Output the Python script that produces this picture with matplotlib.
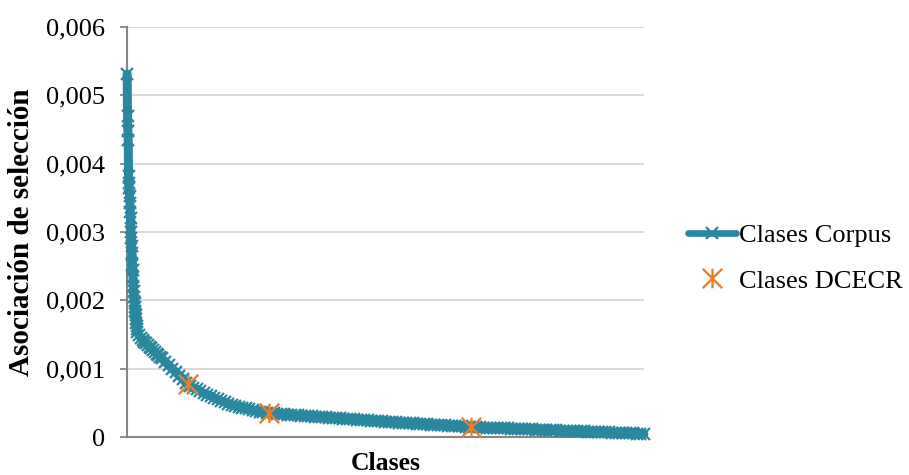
import numpy as np
import matplotlib
matplotlib.use("Agg")
import matplotlib.pyplot as plt
from matplotlib.path import Path
from matplotlib.ticker import FuncFormatter, MultipleLocator

plt.rcParams['font.family'] = ['Liberation Serif', 'DejaVu Serif']

# Ranked classes of the corpus (x = rank of the class, y = selectional association)
n_classes = 1480

head_ranks = np.arange(1, 31)
head_values = [0.00531, 0.00470, 0.00448, 0.00435, 0.00382, 0.00372, 0.00364,
               0.00352, 0.00342, 0.00330, 0.00320, 0.00300, 0.00291, 0.00279,
               0.00269, 0.00252, 0.00244, 0.00234, 0.00221, 0.00213, 0.00205,
               0.00196, 0.00190, 0.00184, 0.00178, 0.00172, 0.00167, 0.00162,
               0.00158, 0.00154]

upper_ranks = np.arange(35, 101, 5)
upper_values = [0.00149, 0.00145, 0.00142, 0.00139, 0.00137, 0.00134, 0.00132,
                0.00130, 0.00127, 0.00125, 0.00122, 0.00120, 0.00117, 0.00115]

mid_ranks = np.arange(110, 401, 10)
mid_values = [0.00110, 0.00105, 0.00100, 0.00095, 0.00090, 0.00085, 0.00079,
              0.00075, 0.00072, 0.00070, 0.00067, 0.00064, 0.00062, 0.00060,
              0.00057, 0.00055, 0.00053, 0.00051, 0.00049, 0.00047, 0.00046,
              0.00044, 0.00043, 0.00042, 0.00041, 0.00039, 0.00038, 0.00037,
              0.00036, 0.00035]

tail_ranks = np.arange(410, 1481, 10)
tail_values = [3.48e-4, 3.44e-4, 3.40e-4, 3.36e-4, 3.32e-4, 3.28e-4, 3.24e-4, 3.20e-4,
               3.16e-4, 3.13e-4, 3.09e-4, 3.05e-4, 3.01e-4, 2.97e-4, 2.94e-4, 2.90e-4,
               2.86e-4, 2.82e-4, 2.79e-4, 2.75e-4, 2.71e-4, 2.68e-4, 2.64e-4, 2.60e-4,
               2.57e-4, 2.53e-4, 2.50e-4, 2.46e-4, 2.43e-4, 2.39e-4, 2.36e-4, 2.32e-4,
               2.29e-4, 2.25e-4, 2.22e-4, 2.18e-4, 2.15e-4, 2.12e-4, 2.08e-4, 2.05e-4,
               2.02e-4, 1.98e-4, 1.95e-4, 1.92e-4, 1.89e-4, 1.85e-4, 1.82e-4, 1.79e-4,
               1.76e-4, 1.73e-4, 1.69e-4, 1.66e-4, 1.63e-4, 1.60e-4, 1.57e-4, 1.54e-4,
               1.51e-4, 1.48e-4, 1.45e-4, 1.43e-4, 1.41e-4, 1.39e-4, 1.37e-4, 1.35e-4,
               1.33e-4, 1.31e-4, 1.29e-4, 1.27e-4, 1.25e-4, 1.23e-4, 1.21e-4, 1.19e-4,
               1.17e-4, 1.15e-4, 1.13e-4, 1.11e-4, 1.09e-4, 1.07e-4, 1.05e-4, 1.03e-4,
               1.01e-4, 0.99e-4, 0.97e-4, 0.95e-4, 0.93e-4, 0.91e-4, 0.89e-4, 0.87e-4,
               0.85e-4, 0.83e-4, 0.81e-4, 0.79e-4, 0.77e-4, 0.75e-4, 0.73e-4, 0.71e-4,
               0.69e-4, 0.67e-4, 0.65e-4, 0.63e-4, 0.61e-4, 0.59e-4, 0.57e-4, 0.55e-4,
               0.53e-4, 0.51e-4, 0.47e-4, 0.42e-4]

# Classes that also appear in the DCECR
dcecr_ranks = [175, 407, 986]
dcecr_values = [0.00077, 0.00035, 0.000145]

corpus_ranks = np.concatenate([head_ranks, upper_ranks, mid_ranks, tail_ranks])
corpus_values = np.concatenate([head_values, upper_values, mid_values, tail_values])

teal = '#2A87A0'
orange = '#F47D20'
axis_gray = '#868686'
grid_gray = '#D9D9D9'

# Asterisk marker: vertical bar plus a full X
star_marker = Path([(0, -1), (0, 1), (-1, -1), (1, 1), (-1, 1), (1, -1)],
                   [Path.MOVETO, Path.LINETO] * 3)

fig = plt.figure(figsize=(9.09, 4.75), dpi=100)
ax = fig.add_axes([127 / 909, 1 - 437 / 475, (644 - 127) / 909, (437 - 27) / 475])

corpus_line, = ax.plot(corpus_ranks, corpus_values, color=teal, lw=6.5,
                       marker='x', ms=9, mew=1.6, mec=teal,
                       solid_joinstyle='round', solid_capstyle='round',
                       clip_on=False, zorder=3, label='Clases Corpus')
dcecr_pts, = ax.plot(dcecr_ranks, dcecr_values, ls='none', marker=star_marker,
                     ms=14, mew=1.7, mfc='none', mec=orange,
                     clip_on=False, zorder=4, label='Clases DCECR')

ax.set_xlim(0.5, n_classes + 0.5)
ax.set_ylim(0, 0.006)
ax.yaxis.set_major_locator(MultipleLocator(0.001))
ax.yaxis.set_major_formatter(FuncFormatter(
    lambda v, p: '0' if abs(v) < 1e-12 else f'{v:.3f}'.replace('.', ',')))
ax.set_xticks([])

ax.grid(axis='y', color=grid_gray, lw=1.4, zorder=0)
ax.set_axisbelow(True)
for side in ('top', 'right'):
    ax.spines[side].set_visible(False)
for side in ('left', 'bottom'):
    ax.spines[side].set_color(axis_gray)
    ax.spines[side].set_linewidth(1.5)

ax.tick_params(axis='y', direction='out', length=5, width=1.3, color=axis_gray,
               labelsize=19, pad=11, labelcolor='black')

ax.set_ylabel('Asociación de selección', fontsize=21, fontweight='bold', labelpad=8)
ax.set_xlabel('Clases', fontsize=18.5, fontweight='bold', labelpad=11)

leg = fig.legend(handles=[corpus_line, dcecr_pts], loc='center left',
                 bbox_to_anchor=(688 / 909, 1 - 258 / 475), frameon=False,
                 fontsize=19, handlelength=1.8, handletextpad=0.12,
                 labelspacing=0.85, borderpad=0, borderaxespad=0)
# Legend swatch uses the plain line weight of the series
leg.get_lines()[0].set_linewidth(4.8)

fig.savefig('out.png', dpi=100)
